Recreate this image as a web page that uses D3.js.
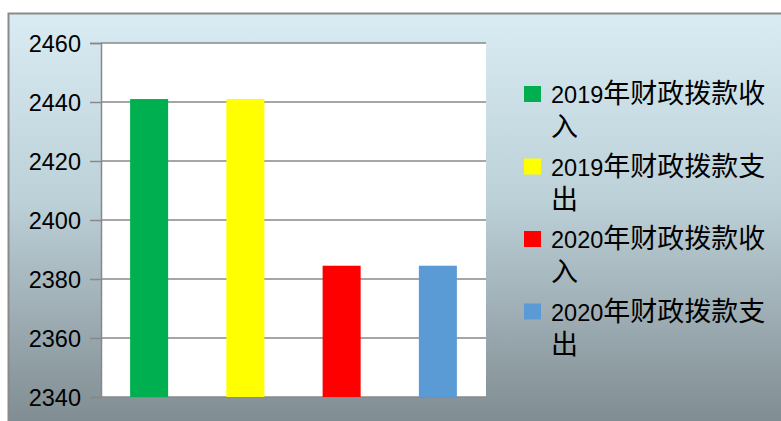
<!DOCTYPE html>
<html>
<head>
<meta charset="utf-8">
<style>
  body, html { margin: 0; padding: 0; background: #fff; }
  .tick-label { font: 23.5px "Liberation Sans", Arial, sans-serif; fill: #000; }
  .legend-num { font-family: "Liberation Sans", Arial, sans-serif; font-size: 23.5px; }
  .legend-cjk { font-family: "Noto Sans CJK SC", sans-serif; font-size: 27px; }
</style>
</head>
<body>
<svg id="svg" width="781" height="421"></svg>
<script src="https://d3js.org/d3.v7.min.js"></script>
<script>
// data
const seriesNames = ['2019年财政拨款收入', '2019年财政拨款支出', '2020年财政拨款收入', '2020年财政拨款支出']
const seriesValues = [2441, 2441, 2384.5, 2384.5]
const seriesColors = ['#00b050', '#ffff00', '#ff0000', '#5b9bd5']
// legend lines (the original wraps each label after the 8th character)
const legendLines = [['2019', '年财政拨款收', '入'], ['2019', '年财政拨款支', '出'], ['2020', '年财政拨款收', '入'], ['2020', '年财政拨款支', '出']]
const yTicks = [2340, 2360, 2380, 2400, 2420, 2440, 2460]

const svg = d3.select('#svg')

// background gradient of the chart area
const defs = svg.append('defs')
const grad = defs.append('linearGradient')
  .attr('id', 'bg').attr('x1', 0).attr('y1', 0).attr('x2', 0).attr('y2', 1)
grad.append('stop').attr('offset', '0%').attr('stop-color', '#d9ecf4')
grad.append('stop').attr('offset', '45%').attr('stop-color', '#bcd0d7')
grad.append('stop').attr('offset', '100%').attr('stop-color', '#7d898e')

svg.append('rect')
  .attr('x', 8.5).attr('y', 13.5)
  .attr('width', 790).attr('height', 420)
  .attr('fill', 'url(#bg)')
  .attr('stroke', '#8a8a8a')
  .attr('stroke-width', 2)

// plot area
const plot = { left: 101, top: 43, right: 486, bottom: 397 }

svg.append('rect')
  .attr('x', plot.left).attr('y', plot.top)
  .attr('width', plot.right - plot.left).attr('height', plot.bottom - plot.top)
  .attr('fill', '#fff')

const x = d3.scaleBand()
  .domain(seriesNames)
  .range([plot.left, plot.right])
  .paddingInner(0.605)
  .paddingOuter(0.3025)

const y = d3.scaleLinear()
  .domain([2340, 2460])
  .range([plot.bottom, plot.top])

// gridlines
svg.append('g')
  .selectAll('line')
  .data(yTicks)
  .join('line')
  .attr('x1', plot.left).attr('x2', plot.right)
  .attr('y1', d => y(d)).attr('y2', d => y(d))
  .attr('stroke', '#888')
  .attr('stroke-width', 1.5)

// y axis
const yAxis = svg.append('g')
  .attr('transform', `translate(${plot.left},0)`)
  .call(d3.axisLeft(y).tickValues(yTicks).tickSize(11).tickPadding(9).tickFormat(d3.format('d')))
yAxis.select('.domain').attr('stroke', '#888').attr('stroke-width', 1.5)
yAxis.selectAll('.tick line').attr('stroke', '#888').attr('stroke-width', 1.5)
yAxis.selectAll('.tick text').attr('class', 'tick-label').attr('dy', '0.36em')
yAxis.attr('font-family', null).attr('font-size', null)

// bars
svg.append('g')
  .selectAll('rect')
  .data(seriesNames)
  .join('rect')
  .attr('x', d => x(d))
  .attr('width', x.bandwidth())
  .attr('y', (d, i) => y(seriesValues[i]))
  .attr('height', (d, i) => y(2340) - y(seriesValues[i]))
  .attr('fill', (d, i) => seriesColors[i])

// legend
const legend = svg.append('g').attr('transform', 'translate(524,86)')
const item = legend.selectAll('g')
  .data(seriesNames)
  .join('g')
  .attr('transform', (d, i) => `translate(0,${i * 72.5})`)

item.append('rect')
  .attr('width', 17).attr('height', 16)
  .attr('fill', (d, i) => seriesColors[i])

item.each(function (d, i) {
  const g = d3.select(this)
  const t = g.append('text').attr('x', 27).attr('y', 17)
  t.append('tspan').attr('class', 'legend-num').text(legendLines[i][0])
  t.append('tspan').attr('class', 'legend-cjk').text(legendLines[i][1])
  g.append('text').attr('x', 27).attr('y', 50)
    .attr('class', 'legend-cjk').text(legendLines[i][2])
})
</script>
</body>
</html>
